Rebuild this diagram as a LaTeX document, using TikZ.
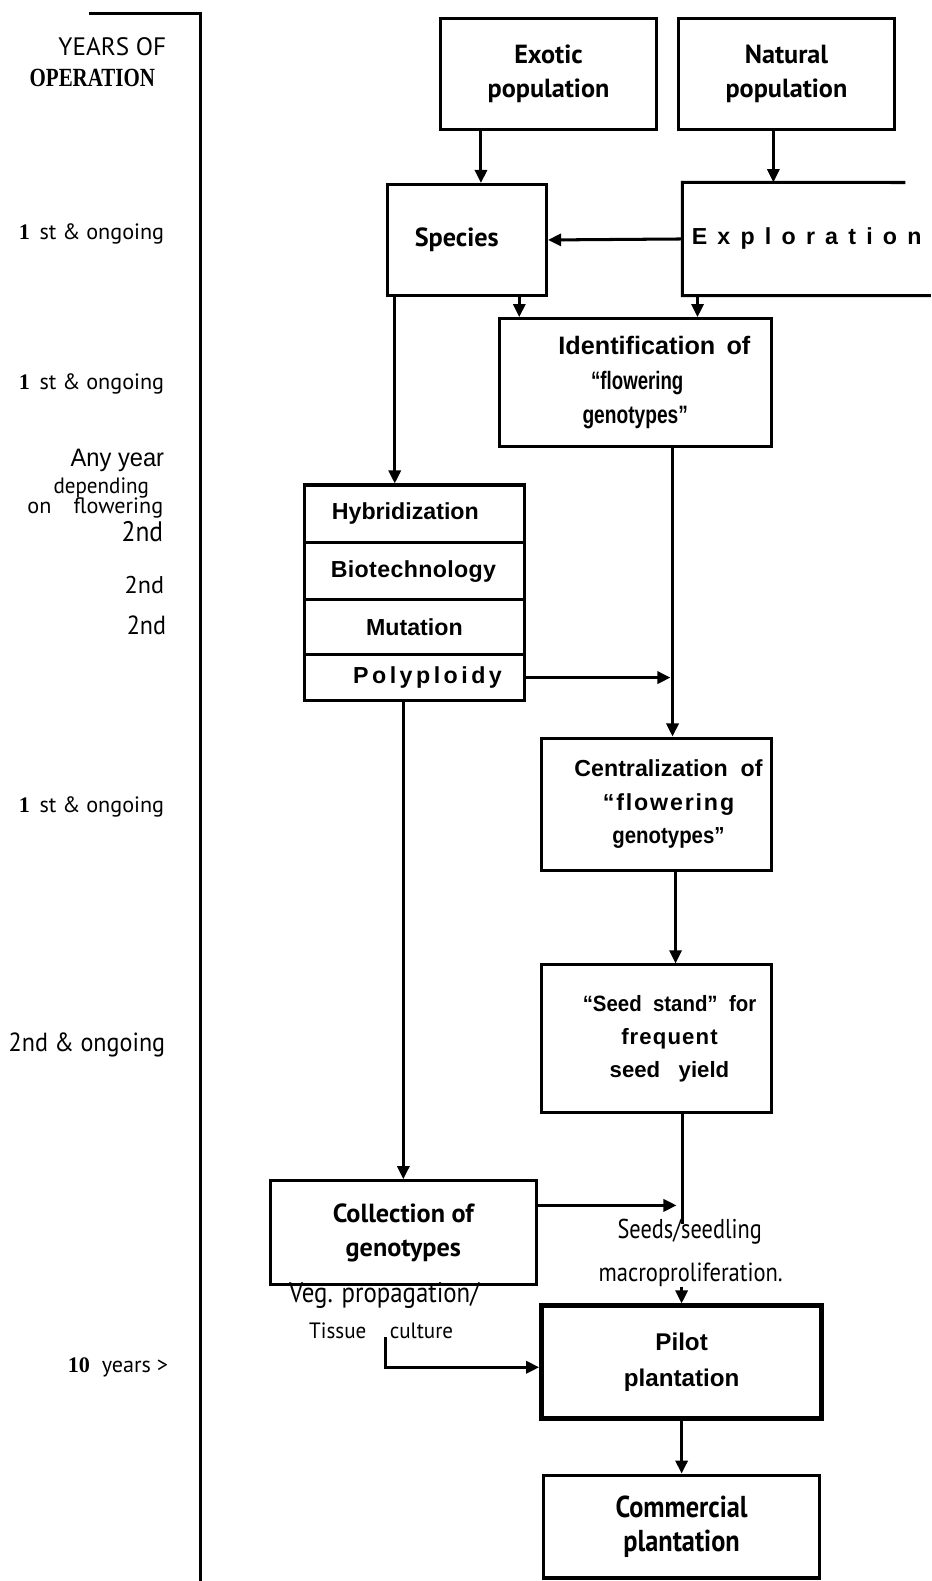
\documentclass[tikz,border=0pt]{standalone}
\usepackage{fontspec}
\usepackage{graphicx}
\setmainfont{Liberation Sans}
\newfontfamily\optfont{PT Sans}
\newfontfamily\lblfont{PT Sans}
\newfontfamily\serfont{Liberation Serif}
\usetikzlibrary{arrows.meta}
\newcommand{\hsq}[2]{\scalebox{#1}[1]{#2}}
\tikzset{
  box/.style={draw, line width=3pt, align=center, inner sep=0pt},
  thickbox/.style={box, line width=4.5pt},
  arr/.style={line width=3pt, -{Triangle[length=13pt,width=12pt]}},
  ln/.style={line width=3pt},
  opt/.style={font=\optfont\bfseries\fontsize{26}{34}\selectfont},
  arial/.style={font=\bfseries\fontsize{23}{33}\selectfont},
  lbl/.style={font=\lblfont\fontsize{22}{26}\selectfont, anchor=east, inner sep=0pt},
  free/.style={font=\lblfont\fontsize{23}{26}\selectfont, inner sep=0pt},
}
\begin{document}
\begin{tikzpicture}[x=1pt,y=-1pt]
\useasboundingbox (0,0) rectangle (924,1568);
% timeline
\coordinate (t0) at (88,13);
\coordinate (t1) at (199,13);
\coordinate (t2) at (199,1568);
\draw[line width=3pt] (t0) -- (t1) -- (t2);
% left labels
\node[lbl, font=\lblfont\fontsize{25}{26}\selectfont] (yo) at (165,46) {YEARS OF};
\node[lbl, font=\serfont\bfseries\fontsize{26}{26}\selectfont] (op) at (154,77) {\hsq{0.8}{OPERATION}};
\node[lbl] (l1) at (163,232) {{\serfont\bfseries 1}\ \,st \& ongoing};
\node[lbl] (l2) at (163,381) {{\serfont\bfseries 1}\ \,st \& ongoing};
\node[lbl, font=\fontsize{25}{26}\selectfont] (l3) at (163,457) {\hsq{0.94}{Any year}};
\node[lbl, font=\lblfont\fontsize{22}{24}\selectfont] (l4) at (148,484) {\hsq{0.95}{depending}};
\node[lbl, font=\lblfont\fontsize{22}{24}\selectfont] (l5) at (162,504) {on\quad flowering};
\node[lbl, font=\lblfont\fontsize{28}{28}\selectfont] (l6) at (162,527) {\hsq{0.9}{2nd}};
\node[lbl, font=\lblfont\fontsize{24}{26}\selectfont] (l7) at (163,580) {2nd};
\node[lbl, font=\lblfont\fontsize{26}{26}\selectfont] (l8) at (165,620) {\hsq{0.92}{2nd}};
\node[lbl] (l9) at (163,800) {{\serfont\bfseries 1}\ \,st \& ongoing};
\node[lbl, font=\lblfont\fontsize{26}{26}\selectfont] (l10) at (164,1036) {\hsq{0.92}{2nd \& ongoing}};
\node[lbl] (l11) at (167,1356) {{\serfont\bfseries 10} \ years >};
% boxes
\node[box, opt, minimum width=214, minimum height=110] (exotic) at (544,73) {Exotic\\population};
\node[box, opt, minimum width=214, minimum height=110] (natural) at (780,73) {Natural\\population};
\node[box, opt, minimum width=158, minimum height=110] (species) at (463,238) {\hspace{-20pt}Species};
\node[arial, minimum width=246, minimum height=112, inner sep=0pt] (expl) at (800,237)
  {\addfontfeature{LetterSpace=44}Exploration};
\coordinate (exptopend) at (898,181);
\draw[line width=3pt] (exptopend) -- (expl.north west) -- (expl.south west) -- (expl.south east);
\node[box, arial, font=\bfseries\fontsize{25}{34}\selectfont, minimum width=270, minimum height=127] (ident) at (630,379.5)
  {\hspace{38pt}Identification\ \,of\\\hspace{4pt}\hsq{0.74}{“flowering}\\\hsq{0.76}{genotypes”}};
\node[box, arial, minimum width=218, minimum height=57] (hyb) at (411,509.5) {\hspace{-18pt}Hybridization};
\node[box, arial, minimum width=218, minimum height=57] (bio) at (411,566.5) {\hspace{-2pt}\addfontfeature{LetterSpace=1.5}Biotechnology};
\node[box, arial, minimum width=218, minimum height=54] (mut) at (411,622) {Mutation};
\node[box, arial, minimum width=218, minimum height=46] (poly) at (411,672) {\hspace{26pt}\addfontfeature{LetterSpace=15}Polyploidy};
\node[box, arial, minimum width=228, minimum height=131] (central) at (651,797.5)
  {\hspace{24pt}Centralization\ \ of\\{\hspace{24pt}\addfontfeature{LetterSpace=8}“flowering}\\\hspace{24pt}\hsq{0.88}{genotypes”}};
\node[box, arial, font=\bfseries\fontsize{22}{33}\selectfont, minimum width=228, minimum height=146] (seed) at (651,1030)
  {\hspace{26pt}\hsq{0.92}{“Seed\ \ stand”\ \ for}\\{\hspace{26pt}\addfontfeature{LetterSpace=5}frequent}\\\hspace{26pt}seed\ \ \ yield};
\node[box, opt, minimum width=264, minimum height=103] (coll) at (400,1222.5) {Collection of\\genotypes};
\node[thickbox, arial, font=\bfseries\fontsize{24}{35}\selectfont, minimum width=278, minimum height=112] (pilot) at (676,1351) {Pilot\\plantation};
\node[box, opt, font=\optfont\bfseries\fontsize{30}{34}\selectfont, minimum width=274, minimum height=102] (comm) at (676,1514) {\hsq{0.87}{Commercial}\\\hsq{0.87}{plantation}};
% free labels
\node[free, font=\lblfont\fontsize{27}{28}\selectfont] (seeds) at (684,1222) {\hsq{0.82}{Seeds/seedling}};
\node[free, font=\lblfont\fontsize{26}{28}\selectfont] (macro) at (685,1264) {\hsq{0.86}{macroproliferation.}};
\node[free, font=\lblfont\fontsize{28}{28}\selectfont] (veg) at (381,1285) {\hsq{0.88}{Veg. propagation/}};
\node[free, font=\lblfont\fontsize{22}{24}\selectfont] (tis) at (335,1320) {\hsq{0.95}{Tissue}};
\node[free, font=\lblfont\fontsize{22}{24}\selectfont] (cul) at (418,1320) {\hsq{0.95}{culture}};
% connectors
\draw[arr] ([xshift=-67pt]exotic.south) -- ([xshift=-67pt]exotic.south |- species.north);
\draw[arr] ([xshift=-13pt]natural.south) -- ([xshift=-13pt]natural.south |- expl.north);
\draw[arr] (expl.west) -- (species.east);
\draw[arr] ([xshift=52pt]species.south) -- ([xshift=52pt]species.south |- ident.north);
\draw[arr] ([xshift=15pt]expl.south west) -- ([xshift=15pt]expl.south west |- ident.north);
\draw[arr] ([xshift=9pt]species.south west) -- ([xshift=9pt]species.south west |- hyb.north);
\draw[arr] ([xshift=37pt]ident.south) -- ([xshift=37pt]ident.south |- central.north);
\draw[arr] (poly.east) -- ([xshift=35pt]poly.east -| ident.south);
\draw[arr] ([xshift=19pt]central.south) -- ([xshift=19pt]central.south |- seed.north);
\coordinate (sdend) at (677,1214);
\draw[ln] (sdend |- seed.south) -- (sdend);
\draw[arr] ([yshift=27pt]coll.east) -- ([yshift=27pt,xshift=-6pt]coll.east -| sdend);
\draw[arr] ([xshift=-11pt]poly.south) -- ([xshift=-11pt]poly.south |- coll.north);
\draw[arr] (macro.south -| pilot.north) -- (pilot.north);
\coordinate (tc) at (382,1326);
\draw[arr] (tc) |- ([yshift=-5pt]pilot.west);
\draw[arr] (pilot.south) -- (comm.north);
\end{tikzpicture}
\end{document}
